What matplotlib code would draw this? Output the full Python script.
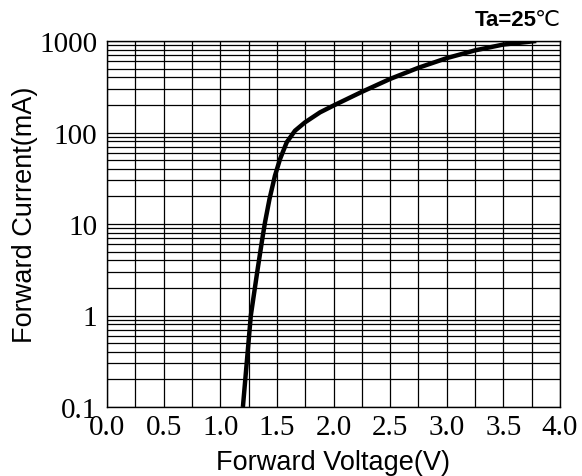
import numpy as np
import matplotlib.pyplot as plt
from matplotlib.ticker import FixedLocator, LogLocator, NullFormatter

# curva I x V do LED
voltage = [1.20, 1.27, 1.33, 1.371, 1.395, 1.435, 1.483, 1.528, 1.587, 1.66, 1.748,
           1.881, 2.0, 2.25, 2.5, 2.75, 3.0, 3.25, 3.5, 3.79]
current = [0.1, 1.0, 3.2, 6.85, 10.4, 18.8, 33.7, 51.3, 78.2, 104.6, 129.0,
           166.0, 197.0, 278.0, 385.0, 510.0, 650.0, 790.0, 915.0, 1000.0]

xticks = [0.0, 0.5, 1.0, 1.5, 2.0, 2.5, 3.0, 3.5, 4.0]
yticks = [0.1, 1, 10, 100, 1000]
ytick_labels = ['0.1', '1', '10', '100', '1000']

serif = ['Liberation Serif', 'DejaVu Serif']
sans = ['Liberation Sans', 'DejaVu Sans']

fig = plt.figure(figsize=(5.82, 4.77), dpi=100)
ax = fig.add_axes([107/582, (477-408)/477, (560-107)/582, (408-42)/477])

ax.plot(voltage, current, 'k-', linewidth=3.2, solid_capstyle='butt',
        solid_joinstyle='round', zorder=5)

ax.set_yscale('log')
ax.set_xlim(0, 4.0)
ax.set_ylim(0.1, 1000)

ax.set_xticks(xticks)
ax.set_xticklabels(['%.1f' % v for v in xticks], family=serif, fontsize=21)
ax.set_yticks(yticks)
ax.set_yticklabels(ytick_labels, family=serif, fontsize=21)
ax.xaxis.set_minor_locator(FixedLocator(np.arange(0.25, 4.0, 0.5)))
ax.yaxis.set_minor_locator(LogLocator(base=10, subs=np.arange(2, 10), numticks=20))
ax.yaxis.set_minor_formatter(NullFormatter())
ax.tick_params(which='both', length=0)
ax.tick_params(axis='x', pad=5)
ax.tick_params(axis='y', pad=7)

ax.grid(True, which='both', color='k', linewidth=0.9)
for s in ax.spines.values():
    s.set_linewidth(1.0)

ax.set_xlabel('Forward Voltage(V)', family=sans, fontsize=19.5)
ax.set_ylabel('Forward Current(mA)', family=sans, fontsize=19.5)
ax.xaxis.set_label_coords(0.5, (408-463)/366)
ax.yaxis.set_label_coords((25-107)/453, (408-215)/366)
ax.xaxis.label.set_va('center')
ax.yaxis.label.set_va('center')

fig.text(537/582, 1 - 20/477, 'Ta=25', ha='right', va='center',
         fontsize=16, fontweight='bold', family=sans)
fig.text(560/582, 1 - 20/477, '℃', ha='right', va='center',
         fontsize=16, family=['DejaVu Sans'])

fig.savefig('out.png', dpi=100)
